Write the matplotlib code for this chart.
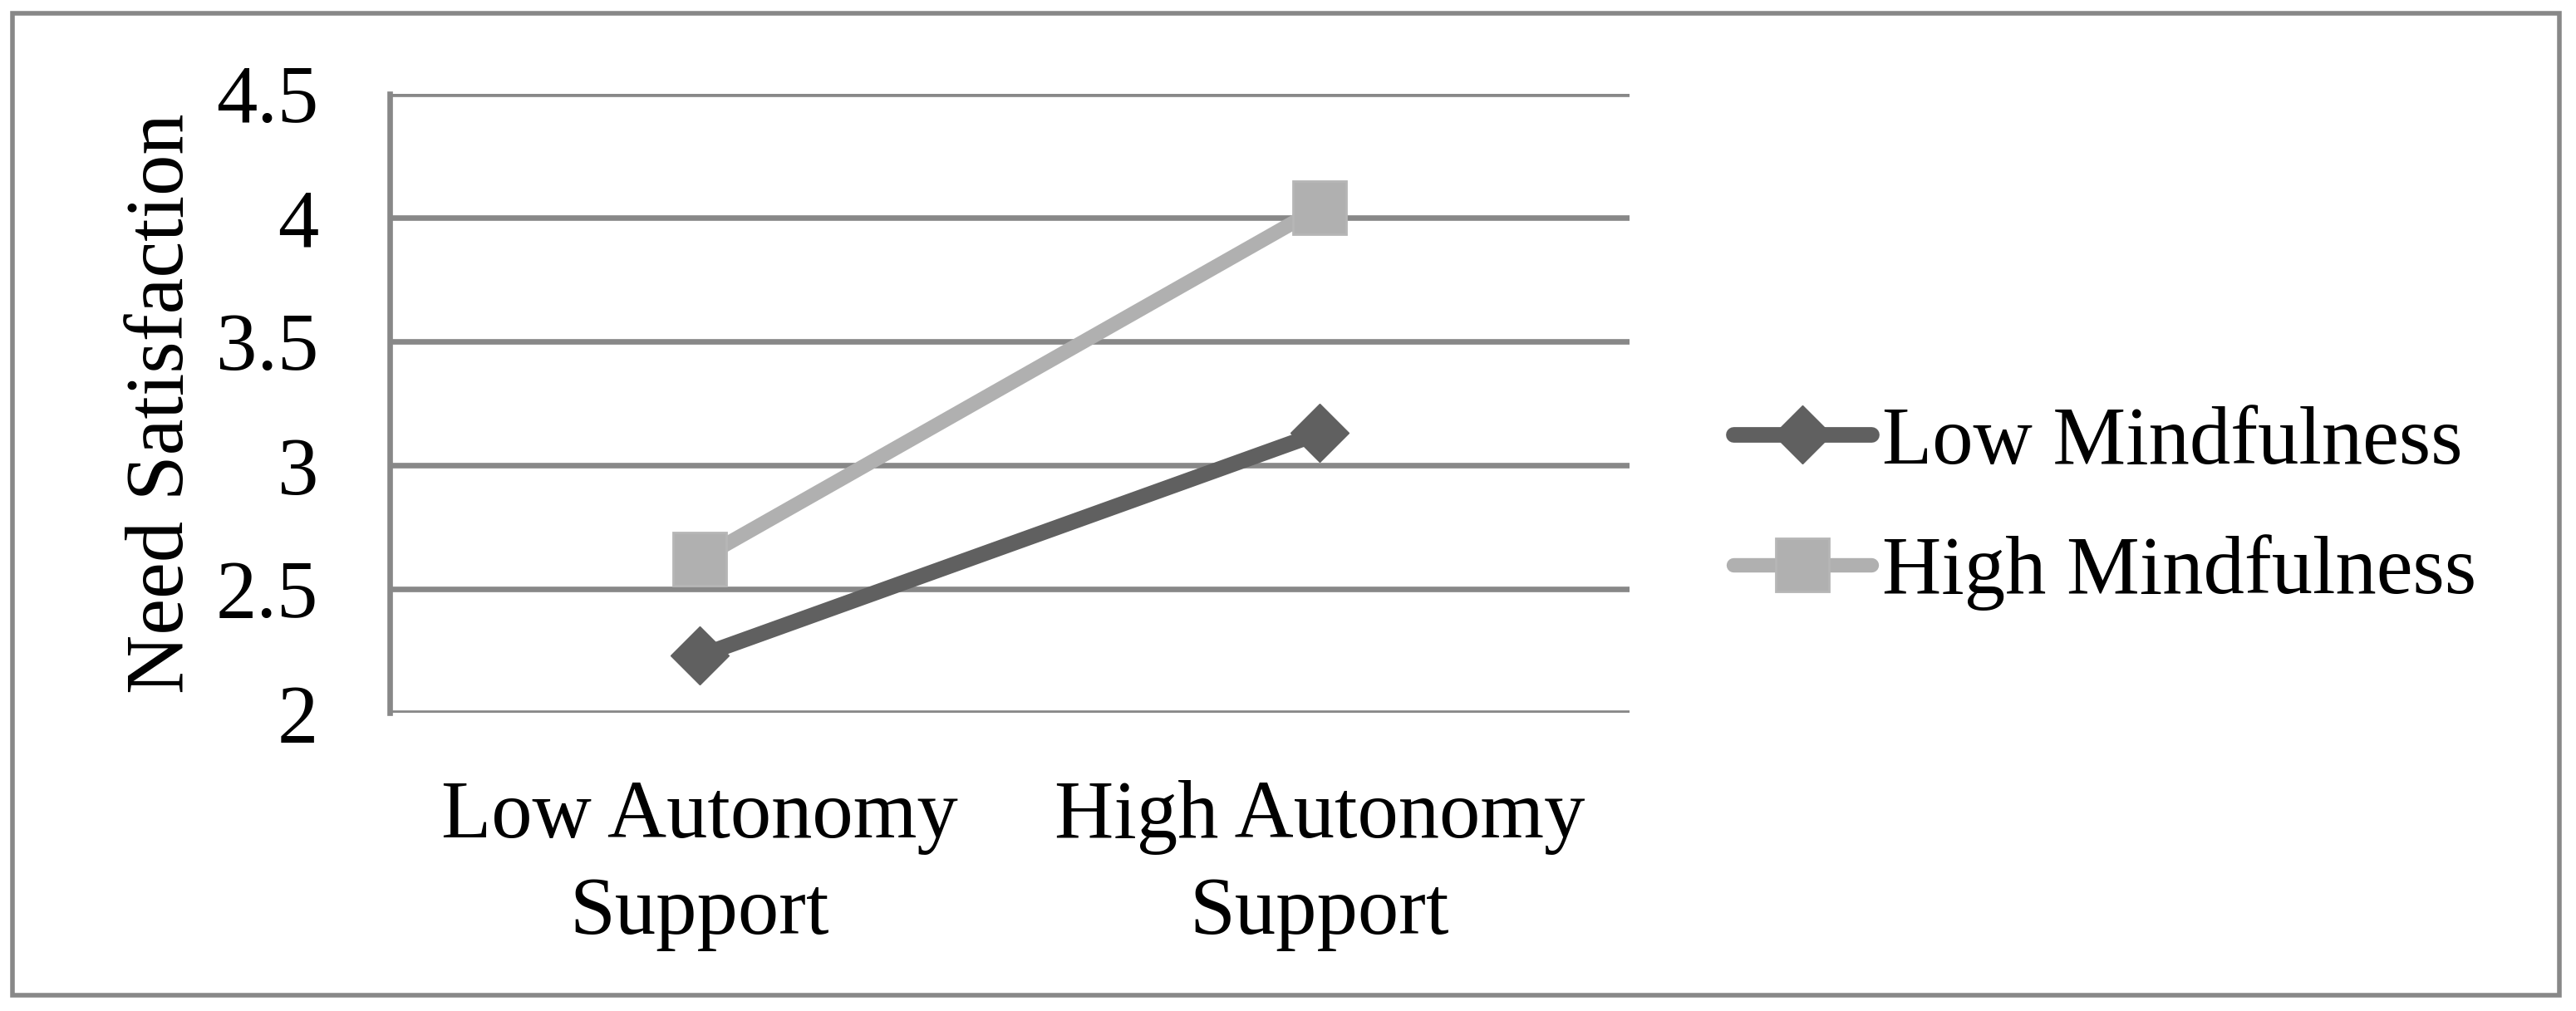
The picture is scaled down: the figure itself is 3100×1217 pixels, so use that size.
import matplotlib
matplotlib.use("Agg")
import matplotlib.pyplot as plt
from matplotlib.patches import Rectangle

categories = ["Low Autonomy\nSupport", "High Autonomy\nSupport"]
series_names = ["Low Mindfulness", "High Mindfulness"]
low_mindfulness = [2.23, 3.13]
high_mindfulness = [2.62, 4.04]
y_ticks = [2, 2.5, 3, 3.5, 4, 4.5]
y_tick_labels = ["2", "2.5", "3", "3.5", "4", "4.5"]
y_label = "Need Satisfaction"

W, H = 3100, 1217
fig = plt.figure(figsize=(W / 100, H / 100), dpi=100)
plt.rcParams['font.family'] = ['Liberation Serif', 'DejaVu Serif']

ax_left, ax_right, ax_top, ax_bottom = 469, 1961, 113, 858
ax = fig.add_axes([ax_left / W, 1 - ax_bottom / H, (ax_right - ax_left) / W, (ax_bottom - ax_top) / H])

grid_color = "#888888"
dark = "#606060"
light = "#b0b0b0"
fs = 71

x = list(range(len(categories)))
ax.plot(x, low_mindfulness, color=dark, lw=13.5, marker="D", ms=36,
        mfc=dark, mec=dark, solid_capstyle="round", label=series_names[0], zorder=3)
ax.plot(x, high_mindfulness, color=light, lw=12.5, marker="s", ms=46,
        mfc=light, mec="#b6b6b6", mew=2, solid_capstyle="round", label=series_names[1], zorder=3)

ax.set_xlim(-0.5, 1.5)
ax.set_ylim(2, 4.5)
ax.set_yticks(y_ticks)
ax.set_yticklabels(y_tick_labels)
ax.set_xticks(x)
ax.set_xticklabels(categories, linespacing=1.38)
ax.yaxis.grid(True, color=grid_color, lw=4.8)
ax.set_axisbelow(True)
for s in ["top", "right", "bottom"]:
    ax.spines[s].set_visible(False)
ax.spines["left"].set_color(grid_color)
ax.spines["left"].set_linewidth(4.8)
ax.tick_params(axis="both", length=0, labelsize=fs, colors="black")
ax.tick_params(axis="y", pad=62)
ax.tick_params(axis="x", pad=58)
ax.set_ylabel(y_label, fontsize=fs)
ax.yaxis.set_label_coords(-(ax_left - 241) / (ax_right - ax_left), 0.5)

leg = fig.legend(loc="center left", bbox_to_anchor=(2086 / W, 1 - 612 / H),
                 frameon=False, fontsize=fs, handlelength=1.68, handletextpad=0.14,
                 borderpad=0, borderaxespad=0, labelspacing=0.66)

fig.patches.append(Rectangle((15 / W, 1 - 1198 / H), (3080 - 15) / W, (1198 - 16) / H,
                             transform=fig.transFigure, fill=False, ec=grid_color, lw=4))

fig.savefig("out.png", dpi=100, facecolor="white")
